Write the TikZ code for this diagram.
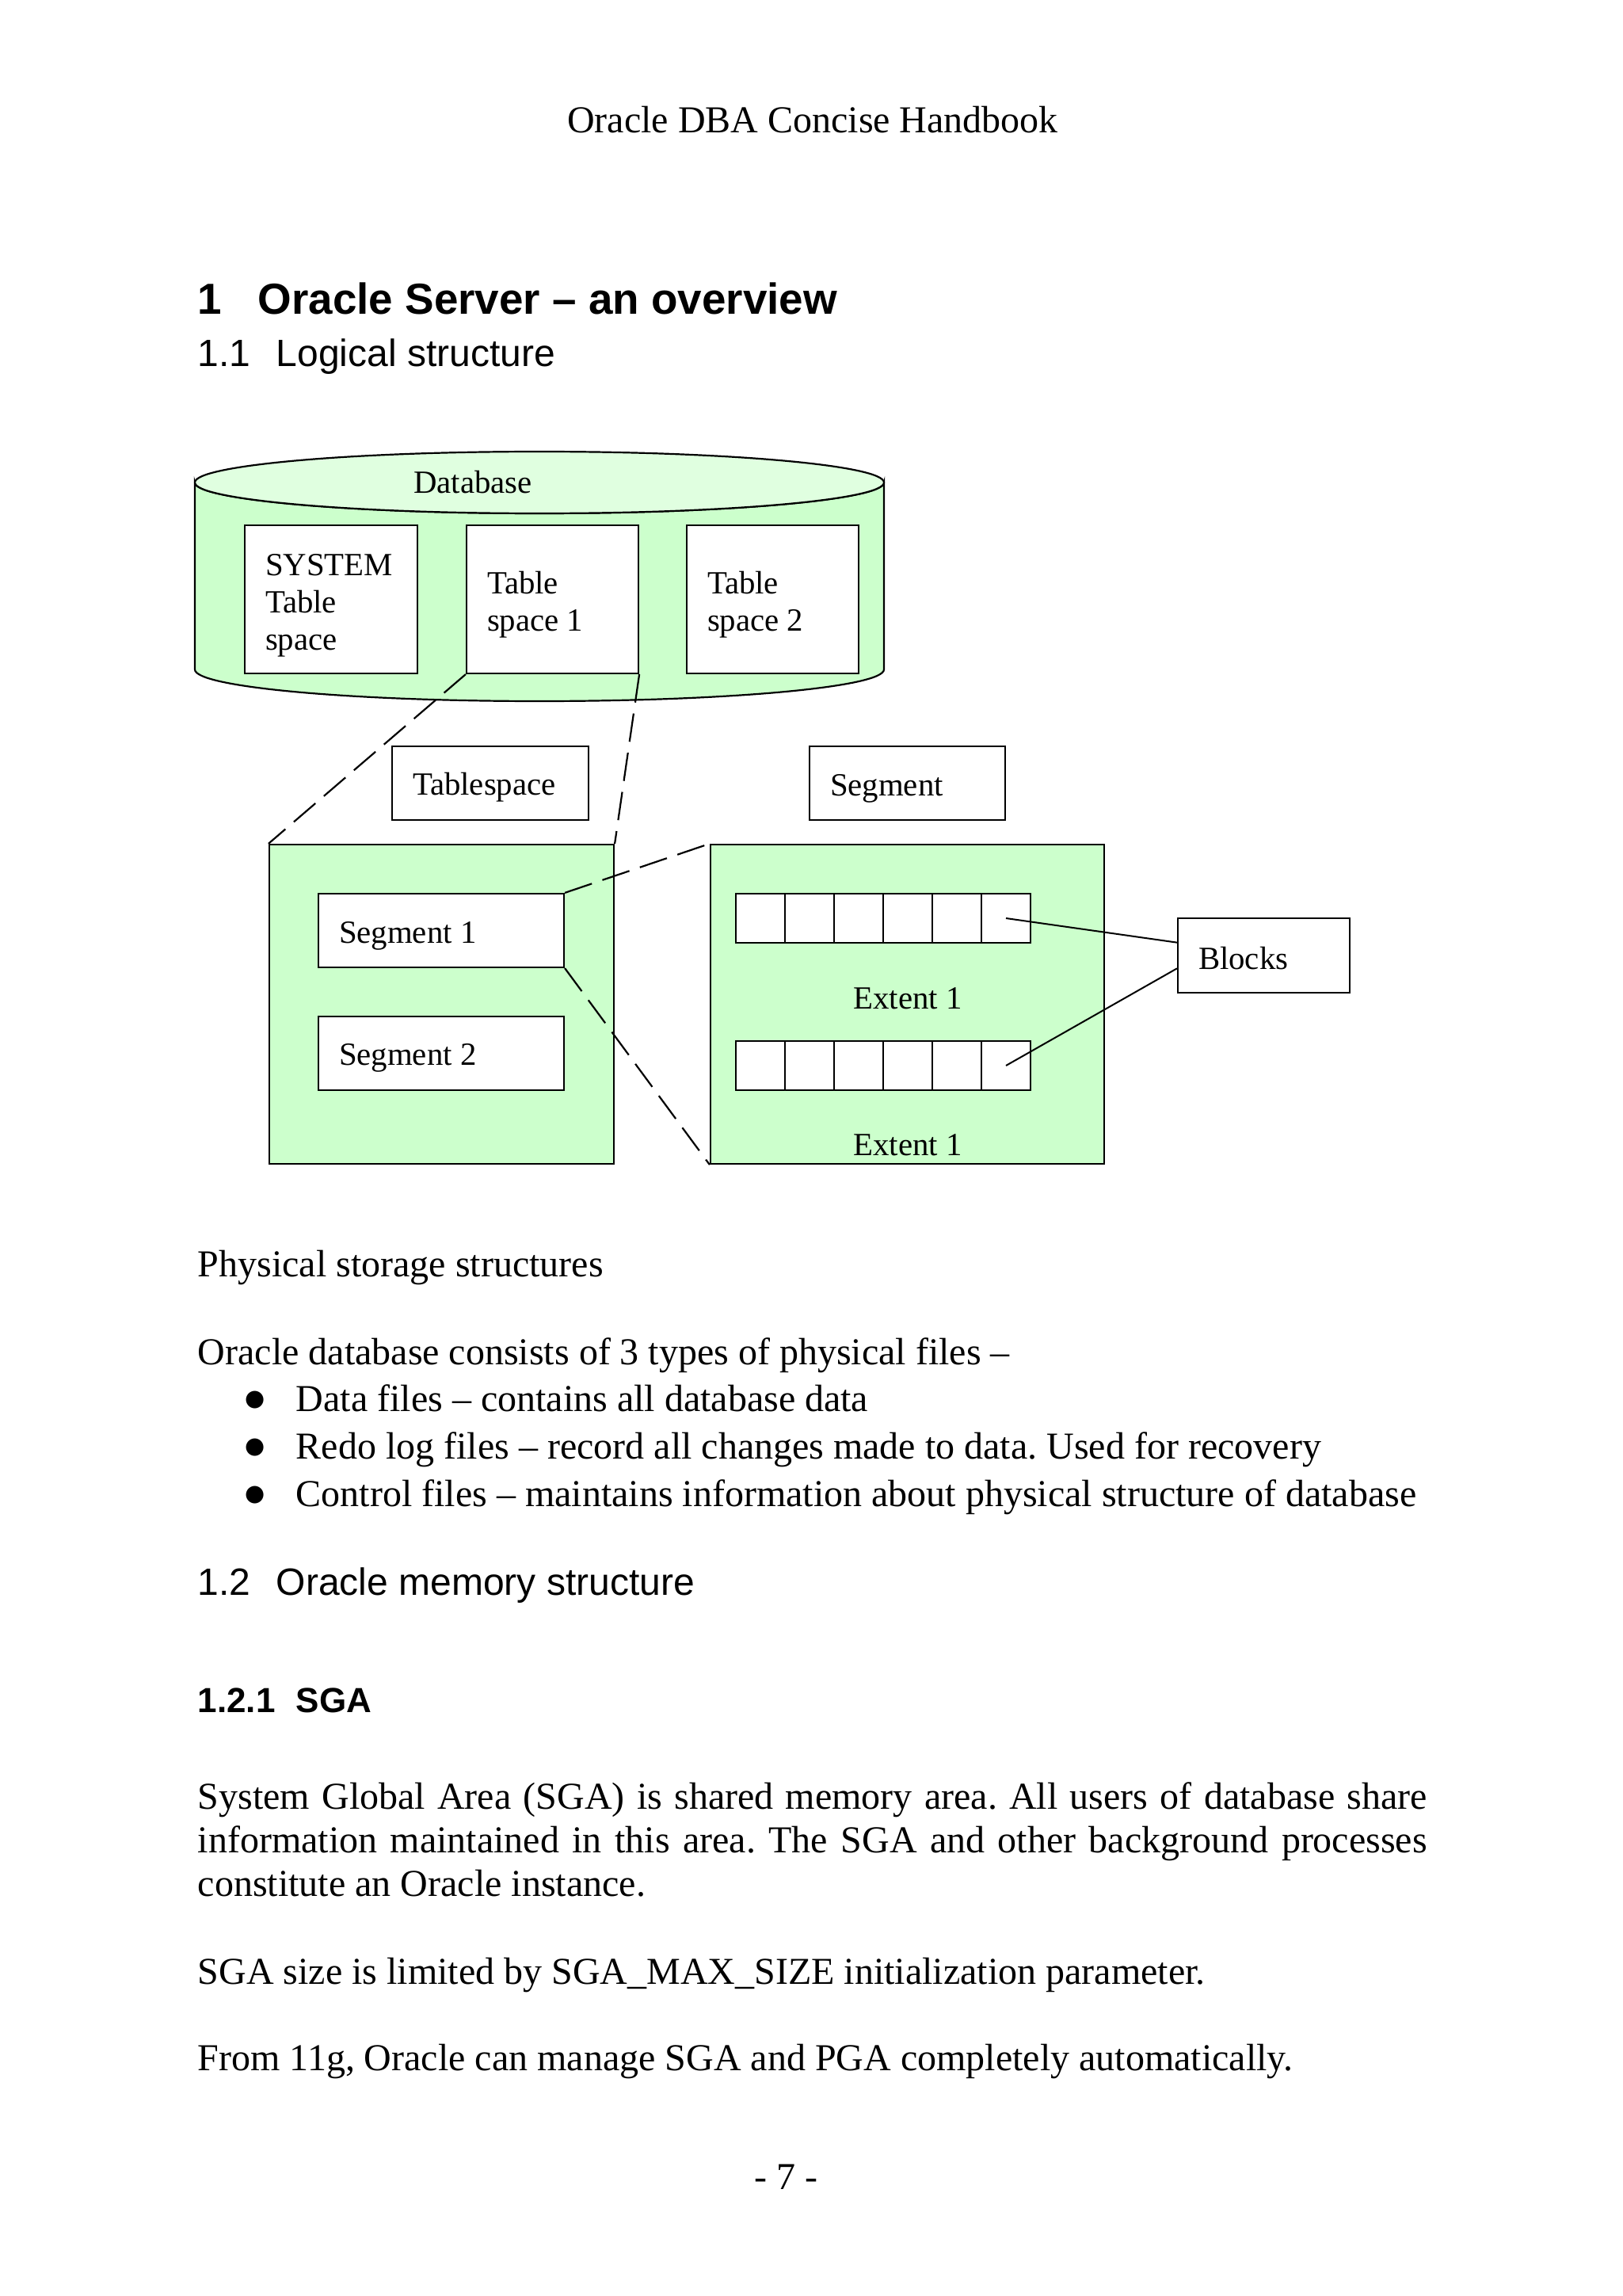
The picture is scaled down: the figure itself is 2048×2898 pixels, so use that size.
\documentclass[tikz,border=0pt]{standalone}
\usepackage{fontspec}
\setmainfont{Liberation Serif}
\newfontfamily\hfont{Liberation Sans}
\newfontfamily\symfont{DejaVu Sans}
\usetikzlibrary{calc}
\definecolor{bodygreen}{RGB}{204,255,204}
\definecolor{topgreen}{RGB}{224,255,224}
\newcommand{\dfont}{\fontsize{10.2}{11.75}\selectfont}
\newcommand{\bfont}{\fontsize{12}{13.8}\selectfont}
% box text: left-aligned block of given width, lowered by a small amount
\newcommand{\boxtext}[3]{\raisebox{-#1}[\height][\depth]{\parbox[c]{#2}{\raggedright #3}}}
\frenchspacing
\begin{document}
\begin{tikzpicture}[x=0.25pt,y=-0.25pt,
  txt/.style={anchor=base west,inner sep=0pt,font=\bfont},
  outline/.style={draw,line width=0.55pt},
  lbox/.style={outline,fill=white,inner xsep=6.5pt,inner ysep=0pt,font=\dfont},
  bigbox/.style={outline,fill=bodygreen,inner sep=0pt},
  cell/.style={outline,fill=white,inner sep=0pt,minimum width=15.5pt,minimum height=15.5pt},
  bullet/.style={anchor=center,inner sep=0pt,font=\symfont\fontsize{7.2}{7.2}\selectfont},
  zoomline/.style={line width=0.55pt,dash pattern=on 9pt off 3.5pt},
  link/.style={line width=0.5pt}]
\fill[white] (0,0) rectangle (2048,2898);
\useasboundingbox (0,0) rectangle (2048,2898);

% page header and headings
\node[txt,anchor=base] (hdr) at (1026,168) {Oracle DBA Concise Handbook};
\node[txt,font=\hfont\bfseries\fontsize{13.7}{16}\selectfont] (h1n) at (249,397) {1};
\node[txt,font=\hfont\bfseries\fontsize{13.7}{16}\selectfont] (h1t) at (325,397) {Oracle Server – an overview};
\node[txt,font=\hfont\fontsize{12}{14}\selectfont] (h11n) at (249,463) {1.1};
\node[txt,font=\hfont\fontsize{12}{14}\selectfont] (h11t) at (348,463) {Logical structure};

% database cylinder
\path[outline,fill=bodygreen] (246,609) -- (246,845)
  arc[start angle=180,end angle=360,x radius=108.75pt,y radius=10pt]
  -- (1116,609)
  arc[start angle=0,end angle=-180,x radius=108.75pt,y radius=9.75pt] -- cycle;
\path[outline,fill=topgreen] (681,609) ellipse[x radius=108.75pt,y radius=9.75pt];
\node[txt,anchor=base,font=\dfont] (dbl) at (597,623) {Database};

\node[lbox,minimum height=46.75pt] (sys) at (418,756.5) {\boxtext{1.9pt}{41.5pt}{SYSTEM\\Table\\space}};
\node[lbox,minimum height=46.75pt] (ts1) at (697.5,756.5) {\boxtext{1.6pt}{41.25pt}{Table\\space 1}};
\node[lbox,minimum height=46.75pt] (ts2) at (975.5,756.5) {\boxtext{1.6pt}{41.25pt}{Table\\space 2}};

% labels
\node[lbox,minimum height=23.25pt] (tsl) at (619,988.5) {\boxtext{1.4pt}{49pt}{Tablespace}};
\node[lbox,minimum height=23.25pt] (segl) at (1145.5,988.5) {\boxtext{1.8pt}{48.75pt}{Segment}};

% tablespace detail
\node[bigbox,minimum width=108.75pt,minimum height=100.75pt] (tsbox) at (557.5,1267.5) {};
\node[lbox,minimum height=23.25pt] (seg1) at (557,1174.5) {\boxtext{1.8pt}{64.5pt}{Segment 1}};
\node[lbox,minimum height=23.25pt] (seg2) at (557,1329.5) {\boxtext{1.5pt}{64.5pt}{Segment 2}};

% segment detail
\node[bigbox,minimum width=124.25pt,minimum height=100.75pt] (segbox) at (1145.5,1267.5) {};
\foreach \i in {1,...,6} {
  \node[cell] (a\i) at ({929+62*\i-31},1159) {};
  \node[cell] (b\i) at ({929+62*\i-31},1345) {};
}
\node[inner sep=0pt,font=\dfont] (ext1) at (1146,1260) {Extent 1};
\node[inner sep=0pt,font=\dfont] (ext2) at (1146,1445) {Extent 1};

\node[lbox,minimum height=23.5pt] (blocks) at (1595.5,1206) {\boxtext{1pt}{41.25pt}{Blocks}};

% connectors
\draw[zoomline] (ts1.south west) -- (tsbox.north west);
\draw[zoomline] (ts1.south east) -- (tsbox.north east);
\draw[zoomline] (seg1.north east) -- (segbox.north west);
\draw[zoomline] (seg1.south east) -- (segbox.south west);
\draw[link] (a6.center) -- ($(blocks.north west)!0.33!(blocks.south west)$);
\draw[link] (b6.center) -- ($(blocks.north west)!0.67!(blocks.south west)$);

% body text
\node[txt] (p1) at (249,1611) {Physical storage structures};
\node[txt] (p2) at (249,1722) {Oracle database consists of 3 types of physical files –};
\node[bullet] (bu1) at (322,1767) {●};
\node[txt] (l1) at (373,1781) {Data files – contains all database data};
\node[bullet] (bu2) at (322,1827) {●};
\node[txt] (l2) at (373,1841) {Redo log files – record all changes made to data. Used for recovery};
\node[bullet] (bu3) at (322,1887) {●};
\node[txt] (l3) at (373,1901) {Control files – maintains information about physical structure of database};

\node[txt,font=\hfont\fontsize{12}{14}\selectfont] (h12n) at (249,2013) {1.2};
\node[txt,font=\hfont\fontsize{12}{14}\selectfont] (h12t) at (348,2013) {Oracle memory structure};
\node[txt,font=\hfont\bfseries\fontsize{11}{13}\selectfont] (h121n) at (249,2161) {1.2.1};
\node[txt,font=\hfont\bfseries\fontsize{11}{13}\selectfont] (h121t) at (373,2161) {SGA};

\node[txt] (s1) at (249,2283) {\makebox[388pt][s]{System Global Area (SGA) is shared memory area. All users of database share}};
\node[txt] (s2) at (249,2338) {\makebox[388pt][s]{information maintained in this area. The SGA and other background processes}};
\node[txt] (s3) at (249,2393) {constitute an Oracle instance.};
\node[txt] (s4) at (249,2504) {SGA size is limited by SGA\_MAX\_SIZE initialization parameter.};
\node[txt] (s5) at (249,2613) {From 11g, Oracle can manage SGA and PGA completely automatically.};
\node[txt,anchor=base] (pg) at (992,2763) {- 7 -};
\end{tikzpicture}
\end{document}
